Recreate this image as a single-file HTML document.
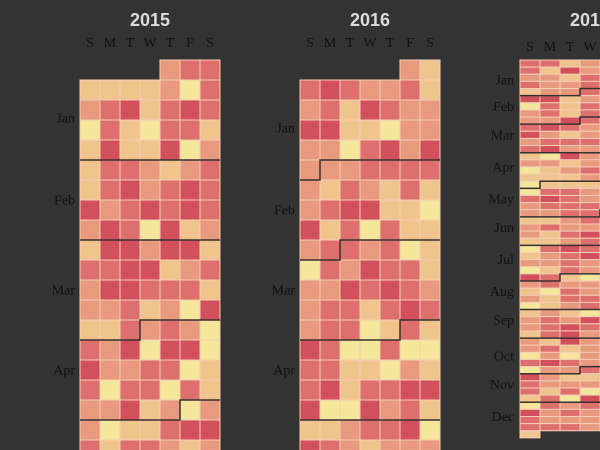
<!DOCTYPE html>
<html><head><meta charset="utf-8">
<style>
html,body{margin:0;padding:0;background:#333;width:600px;height:450px;overflow:hidden;}
svg{display:block;overflow:hidden;}
</style></head>
<body>
<svg id="chart" width="600" height="450" viewBox="0 0 600 450" xmlns="http://www.w3.org/2000/svg"></svg>
<script>
// Data: one value (0..4) per day starting Jan 1 of each year
const years = [2015, 2016, 2017];
const monthNames = ["Jan","Feb","Mar","Apr","May","Jun","Jul","Aug","Sep","Oct","Nov","Dec"];
const dayLetters = ["S","M","T","W","T","F","S"];
const values2015 = [
 2,3,3,
 1,1,1,1,2,0,3, 2,3,4,1,3,4,3, 0,3,1,0,3,3,1, 1,4,1,1,4,0,2,
 1,3,3,2,1,2,3, 1,3,4,2,3,4,3, 4,2,3,4,3,4,3, 2,4,3,0,4,1,2,
 1,4,4,2,4,4,1, 3,3,4,4,1,2,3, 2,4,4,3,3,3,1, 2,2,3,1,2,0,4,
 1,1,3,2,3,2,0, 3,2,4,0,4,4,0, 4,2,2,3,3,0,1, 3,0,3,3,0,3,1,
 2,2,4,1,2,0,2, 2,0,1,1,3,4,4, 3,1,3,3,2,1,2
];
const values2016 = [
 2,1,
 3,4,3,2,2,3,1, 2,3,1,4,3,2,2, 4,4,1,1,0,2,2, 2,2,0,3,4,2,4,
 2,2,2,3,3,3,3, 2,1,3,2,1,3,1, 2,3,4,4,1,1,0, 4,1,3,0,3,1,1,
 2,3,3,2,3,0,1, 0,3,2,4,3,3,1, 2,2,4,3,4,3,2, 2,3,3,1,3,4,3,
 2,3,3,0,1,3,1, 4,3,0,0,3,0,0, 3,3,1,1,0,2,1, 3,4,1,3,3,4,4,
 4,0,0,4,2,3,1, 1,1,2,3,3,4,0, 4,3,2,1,2,2,2
];
const values2017 = [
 3,3,1,2,2,3,3, 3,1,4,2,3,2,1, 2,2,1,3,2,3,2, 3,2,2,3,3,1,2, 1,2,2,3,2,3,3,
 4,4,1,2,3,2,1, 0,3,1,3,2,2,3, 2,3,1,3,3,1,2, 2,2,4,3,2,3,2, 3,4,3,2,1,2,3,
 4,2,1,2,3,3,2, 2,3,3,3,2,1,3, 3,4,2,2,3,2,1, 1,0,4,2,2,3,2, 2,2,1,2,3,1,2,
 0,1,2,3,2,2,3, 1,1,1,2,3,2,1, 0,1,1,1,2,3,2, 0,3,3,2,2,1,3, 3,4,3,2,3,2,2,
 2,3,3,3,2,3,1, 2,2,3,3,1,2,3, 1,1,2,3,2,3,2, 2,3,2,2,3,1,2, 2,1,3,4,2,2,3,
 1,1,2,3,3,2,1, 0,3,4,3,2,3,2, 1,2,3,4,3,2,1, 2,2,3,2,2,3,3, 0,1,3,2,1,2,2,
 4,3,1,0,2,3,2, 2,3,2,2,3,2,1, 1,0,3,2,2,1,3, 2,1,3,3,2,3,2, 0,1,2,3,3,2,1,
 1,2,1,0,2,3,2, 2,3,2,4,3,2,3, 2,3,4,3,2,1,2, 1,3,4,2,3,2,2, 2,1,4,2,2,3,1,
 2,3,1,2,3,2,2, 0,2,0,2,1,3,2, 3,4,3,2,2,3,1, 0,2,2,3,3,2,2, 4,2,1,1,2,3,2,
 3,2,2,2,3,1,2, 3,1,3,0,2,2,3, 1,3,0,4,3,2,2, 0,3,2,3,2,1,3, 4,2,3,2,3,2,2,
 3,2,2,2,1,3,2, 3,3,3,2,2,3,2, 1
];
const yearValues = [values2015, values2016, values2017];
const colors = ["#f4e79c","#efc48d","#e89a7e","#dd706c","#d1505b"];

const panels = [
  {x0:80,  y0:60, cw:20, rh:20,   title:[150,26], dowY:47, labelX:75},
  {x0:300, y0:60, cw:20, rh:20,   title:[370,26], dowY:47, labelX:295},
  {x0:520, y0:60, cw:20, rh:7.13, title:[590,26], dowY:51, labelX:514}
];
const NS = "http://www.w3.org/2000/svg";
const svg = document.getElementById("chart");
function mk(tag, attrs, parent){
  const e = document.createElementNS(NS, tag);
  for (const k in attrs) e.setAttribute(k, attrs[k]);
  (parent||svg).appendChild(e); return e;
}
years.forEach((yr, yi) => {
  const p = panels[yi];
  const vals = yearValues[yi];
  const g = mk("g", {});
  
  
  const t = mk("text", {x:p.title[0], y:p.title[1], "text-anchor":"middle", "font-family":"Liberation Sans, sans-serif", "font-weight":"bold", "font-size":"18", fill:"#dddddd"}, g);
  t.textContent = yr;
  
  
  dayLetters.forEach((d, i) => {
    const dt = mk("text", {x:p.x0 + i*p.cw + p.cw/2, y:p.dowY, "text-anchor":"middle", "font-family":"Liberation Serif, serif", "font-size":"14", fill:"#111"}, g);
    dt.textContent = d;
    
    
  });
  const j1 = new Date(yr, 0, 1).getDay();
  const col = i => (j1 + i) % 7;
  const wk = i => Math.floor((j1 + i) / 7);
  vals.forEach((v, i) => {
    const r = mk("rect", {x:p.x0 + col(i)*p.cw, y:p.y0 + wk(i)*p.rh, width:p.cw, height:p.rh, fill:colors[v], stroke:"#f6cdb6", "stroke-width":"1"}, g);
    
    
  });
  for (let m = 0; m < 12; m++) {
    const start = Math.round((new Date(yr, m, 1) - new Date(yr, 0, 1)) / 864e5);
    const end = Math.round((new Date(yr, m + 1, 0) - new Date(yr, 0, 1)) / 864e5);
    if (start >= vals.length) break;
    const w0 = wk(start), d0 = col(start);
    const w1 = wk(end);
    if (m > 0) {
      const X = c => p.x0 + c*p.cw, Y = w => p.y0 + w*p.rh;
      const dpath = d0 === 0 ? `M${X(0)},${Y(w0)}H${X(7)}` :
        `M${X(0)},${Y(w0+1)}H${X(d0)}V${Y(w0)}H${X(7)}`;
      const pa = mk("path", {d:dpath, fill:"none", stroke:"#3a3030", "stroke-width":"1.5"}, g);
      
      
    }
    let cy = p.y0 + (w0 + w1 + 1) / 2 * p.rh;
    if (m === 0) cy += (p.rh >= 20 ? 8 : 2);
    if (cy > 445) continue;
    const lt = mk("text", {x:p.labelX, y:cy + 4.5, "text-anchor":"end", "font-family":"Liberation Serif, serif", "font-size":"14", fill:"#111"}, g);
    lt.textContent = monthNames[m];
    
    
  }
});
</script>
</body></html>
